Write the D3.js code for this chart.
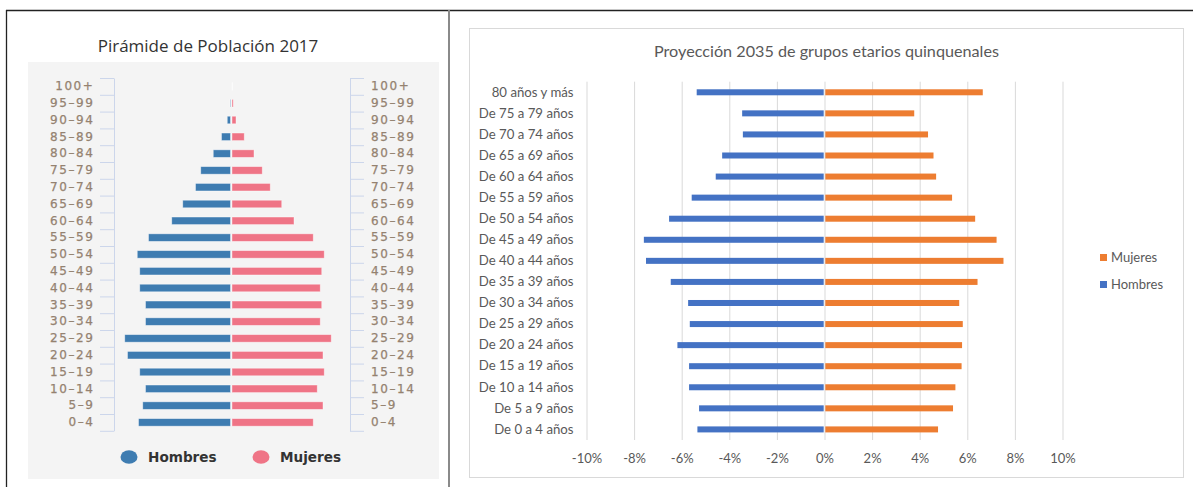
<!DOCTYPE html>
<html>
<head>
<meta charset="utf-8">
<script src="https://cdn.jsdelivr.net/npm/d3@7"></script>
<style>
  html, body { margin: 0; padding: 0; background: #ffffff; }
  svg { display: block; }
</style>
</head>
<body>
<svg id="chart" width="1193" height="487"></svg>
<script>
// ---------- Left chart data: Pirámide de Población 2017 (% of population, estimated) ----------
const pyramidAges = ["100+", "95–99", "90–94", "85–89", "80–84", "75–79", "70–74", "65–69", "60–64", "55–59",
  "50–54", "45–49", "40–44", "35–39", "30–34", "25–29", "20–24", "15–19", "10–14", "5–9", "0–4"];
const pyramidHombres = [0.0, 0.02, 0.13, 0.36, 0.69, 1.19, 1.40, 1.91, 2.35, 3.28,
  3.73, 3.63, 3.63, 3.40, 3.40, 4.23, 4.12, 3.63, 3.40, 3.51, 3.68];
const pyramidMujeres = [0.02, 0.05, 0.16, 0.49, 0.88, 1.21, 1.53, 1.99, 2.48, 3.25,
  3.69, 3.59, 3.53, 3.59, 3.53, 3.97, 3.64, 3.69, 3.41, 3.64, 3.25];
const pyramidLegend = ["Hombres", "Mujeres"];
const pyramidTitle = "Pirámide de Población 2017";

// ---------- Right chart data: Proyección 2035 (%) ----------
const projCategories = ["80 años y más", "De 75 a 79 años", "De 70 a 74 años", "De 65 a 69 años", "De 60 a 64 años",
  "De 55 a 59 años", "De 50 a 54 años", "De 45 a 49 años", "De 40 a 44 años", "De 35 a 39 años", "De 30 a 34 años",
  "De 25 a 29 años", "De 20 a 24 años", "De 15 a 19 años", "De 10 a 14 años", "De 5 a 9 años", "De 0 a 4 años"];
const projHombres = [-5.37, -3.46, -3.43, -4.30, -4.57, -5.58, -6.53, -7.59, -7.50, -6.46, -5.73,
  -5.66, -6.18, -5.69, -5.69, -5.27, -5.34];
const projMujeres = [6.65, 3.77, 4.35, 4.58, 4.69, 5.36, 6.33, 7.23, 7.52, 6.43, 5.66,
  5.81, 5.78, 5.76, 5.50, 5.40, 4.77];
const projTicks = [-10, -8, -6, -4, -2, 0, 2, 4, 6, 8, 10];
const projLegend = ["Mujeres", "Hombres"];
const projTitle = "Proyección 2035 de grupos etarios quinquenales";

const svg = d3.select("#chart");

// ---------- Frame lines ----------
svg.append("line").attr("x1", 6).attr("x2", 1193).attr("y1", 10.5).attr("y2", 10.5)
  .attr("stroke", "#222").attr("stroke-width", 1.3);
svg.append("line").attr("x1", 6.5).attr("x2", 6.5).attr("y1", 10).attr("y2", 487)
  .attr("stroke", "#222").attr("stroke-width", 1.3);
svg.append("line").attr("x1", 449).attr("x2", 449).attr("y1", 10).attr("y2", 487)
  .attr("stroke", "#8a8a8a").attr("stroke-width", 2);

// =================== LEFT CHART ===================
const L = svg.append("g");
L.append("rect").attr("x", 28).attr("y", 62).attr("width", 411).attr("height", 417).attr("fill", "#f4f4f4");
L.append("text").attr("x", 208).attr("y", 52).attr("text-anchor", "middle")
  .attr("font-family", "'Open Sans', sans-serif").attr("font-size", 17).attr("fill", "#333")
  .text(pyramidTitle);

const yTop = 78, yBot = 430.8;
const yBandL = d3.scaleBand().domain(pyramidAges).range([yTop, yBot]).paddingInner(0.55).paddingOuter(0.275);
const yIdx = d3.scaleLinear().domain([0, pyramidAges.length]).range([yBot, yTop]);
const wL = d3.scaleLinear().domain([0, 5]).range([0, 125]);
const cxL = 230.5, cxR = 232;
const blueL = "#3e7cb1", pinkL = "#ef7486";

// axes: boundary ticks
const axisStyle = g => {
  g.selectAll("path.domain").attr("stroke", "#ccd6eb");
  g.selectAll(".tick line").attr("stroke", "#ccd6eb");
};
L.append("g").attr("transform", "translate(114,0)")
  .call(d3.axisLeft(yIdx).tickValues(d3.range(pyramidAges.length + 1)).tickFormat("").tickSize(14).tickSizeOuter(0))
  .call(axisStyle);
L.append("g").attr("transform", "translate(350,0)")
  .call(d3.axisRight(yIdx).tickValues(d3.range(pyramidAges.length + 1)).tickFormat("").tickSize(14).tickSizeOuter(0))
  .call(axisStyle);

// labels
const labStyle = g => {
  g.select("path.domain").remove();
  g.selectAll(".tick line").remove();
  g.selectAll(".tick text").attr("font-family", "'DejaVu Sans', sans-serif").attr("font-size", 12)
    .attr("letter-spacing", "1.6px").attr("fill", "#948270").attr("stroke", "#948270").attr("stroke-width", 0.25);
};
L.append("g").attr("transform", "translate(114,0)")
  .call(d3.axisLeft(yBandL).tickSize(0).tickPadding(19.5))
  .call(labStyle);
L.append("g").attr("transform", "translate(350,0)")
  .call(d3.axisRight(yBandL).tickSize(0).tickPadding(21))
  .call(labStyle);

// bars
L.selectAll("rect.h").data(pyramidAges).join("rect").attr("class", "h")
  .attr("x", (d, i) => cxL - wL(pyramidHombres[i]))
  .attr("y", d => yBandL(d))
  .attr("width", (d, i) => wL(pyramidHombres[i]))
  .attr("height", yBandL.bandwidth())
  .attr("fill", blueL).attr("stroke", "rgba(255,255,255,0.5)").attr("stroke-width", 0.8);
L.selectAll("rect.m").data(pyramidAges).join("rect").attr("class", "m")
  .attr("x", cxR)
  .attr("y", d => yBandL(d))
  .attr("width", (d, i) => wL(pyramidMujeres[i]))
  .attr("height", yBandL.bandwidth())
  .attr("fill", (d, i) => i === 0 ? "#ffffff" : pinkL).attr("stroke", "rgba(255,255,255,0.5)").attr("stroke-width", 0.8);

// legend
const legL = [{ x: 129, tx: 148, c: blueL }, { x: 261, tx: 280, c: pinkL }];
legL.forEach((l, i) => {
  L.append("ellipse").attr("cx", l.x).attr("cy", 457).attr("rx", 8.5).attr("ry", 6.8).attr("fill", l.c);
  L.append("text").attr("x", l.tx).attr("y", 462).attr("font-family", "'DejaVu Sans', sans-serif")
    .attr("font-weight", "bold").attr("font-size", 13.6).attr("fill", "#333").text(pyramidLegend[i]);
});

// =================== RIGHT CHART ===================
const R = svg.append("g");
R.append("rect").attr("x", 469.5).attr("y", 28.5).attr("width", 714).attr("height", 449)
  .attr("fill", "#fff").attr("stroke", "#d9d9d9").attr("stroke-width", 1);
R.append("text").attr("x", 826.5).attr("y", 57).attr("text-anchor", "middle")
  .attr("font-family", "Lato, 'Open Sans', sans-serif").attr("font-size", 16.2).attr("fill", "#595959")
  .text(projTitle);

const pTop = 81.7, pBot = 440;
const xR = d3.scaleLinear().domain([-10, 10]).range([586.5, 1062.5]);
const yR = d3.scaleBand().domain(projCategories).range([pTop, pBot]).paddingInner(0.715).paddingOuter(0.36);

// gridlines
R.append("g").attr("transform", `translate(0,${pBot})`)
  .call(d3.axisBottom(xR).tickValues(projTicks).tickFormat("").tickSize(-(pBot - pTop)))
  .call(g => { g.select("path.domain").remove(); g.selectAll(".tick line").attr("stroke", "#d9d9d9"); });

// x tick labels
R.append("g").attr("transform", `translate(0,${pBot})`)
  .call(d3.axisBottom(xR).tickValues(projTicks).tickFormat(d => d + "%").tickSize(0).tickPadding(14))
  .call(g => {
    g.select("path.domain").remove();
    g.selectAll(".tick text").attr("font-family", "Lato, 'Open Sans', sans-serif").attr("font-size", 13).attr("fill", "#595959");
  });

// y labels
R.append("g").attr("transform", `translate(586.5,0)`)
  .call(d3.axisLeft(yR).tickSize(0).tickPadding(13))
  .call(g => {
    g.select("path.domain").remove();
    g.selectAll(".tick text").attr("font-family", "Lato, 'Open Sans', sans-serif").attr("font-size", 13.2).attr("fill", "#595959");
  });

const blueR = "#4472c4", orangeR = "#ed7d31";
R.selectAll("rect.ph").data(projCategories).join("rect").attr("class", "ph")
  .attr("x", (d, i) => xR(projHombres[i]))
  .attr("y", d => yR(d))
  .attr("width", (d, i) => xR(0) - 0.8 - xR(projHombres[i]))
  .attr("height", yR.bandwidth())
  .attr("fill", blueR);
R.selectAll("rect.pm").data(projCategories).join("rect").attr("class", "pm")
  .attr("x", xR(0) + 0.8)
  .attr("y", d => yR(d))
  .attr("width", (d, i) => xR(projMujeres[i]) - xR(0) - 0.8)
  .attr("height", yR.bandwidth())
  .attr("fill", orangeR);

// legend
const legR = [{ y: 257.5, c: orangeR }, { y: 284.5, c: blueR }];
legR.forEach((l, i) => {
  R.append("rect").attr("x", 1100).attr("y", l.y - 3.5).attr("width", 7).attr("height", 7).attr("fill", l.c);
  R.append("text").attr("x", 1111).attr("y", l.y + 4.5).attr("font-family", "Lato, 'Open Sans', sans-serif")
    .attr("font-size", 13).attr("fill", "#595959").text(projLegend[i]);
});
</script>
</body>
</html>
